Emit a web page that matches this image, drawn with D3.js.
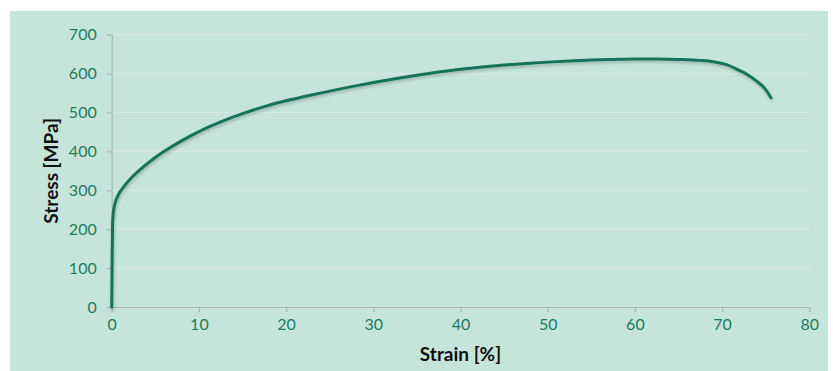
<!DOCTYPE html>
<html>
<head>
<meta charset="utf-8">
<script src="https://cdn.jsdelivr.net/npm/d3@7"></script>
<style>
  body { margin: 0; background: #fff; }
  text { font-family: Lato, "Open Sans", sans-serif; }
</style>
</head>
<body>
<div id="chart"></div>
<script>
// strain in %, stress in MPa
var strain = [0, 0.05, 0.1, 0.2, 0.4, 0.8, 1.3, 2, 3, 4.5, 6.3, 8, 10, 12.5, 15, 17.5, 20, 22.5, 25, 27.5, 30,
  32.5, 35, 37.5, 40, 42.5, 45, 47.5, 50, 52.5, 55, 57.5, 60, 62.5, 65, 67.5, 69, 70.5, 72, 73, 74, 75, 75.6];
var stress = [0, 115, 215, 245, 268, 290, 307, 326, 348, 376, 404, 427, 451, 476, 497, 515, 530, 543, 555, 566.5, 577,
  587, 596, 604, 611, 617, 622, 626, 629.5, 632.5, 635, 636.5, 637.5, 637.5, 636.5, 634, 630.5, 623, 608, 596, 580, 559, 538];
var xTicks = [0, 10, 20, 30, 40, 50, 60, 70, 80];
var yTicks = [0, 100, 200, 300, 400, 500, 600, 700];

var W = 833, H = 371;
var svg = d3.select("#chart").append("svg").attr("width", W).attr("height", H);

var defs = svg.append("defs");
var f = defs.append("filter").attr("id", "shadow").attr("x", "-5%").attr("y", "-5%").attr("width", "110%").attr("height", "120%");
f.append("feDropShadow").attr("dx", 1).attr("dy", 2).attr("stdDeviation", 1.5)
  .attr("flood-color", "#000").attr("flood-opacity", 0.22);

svg.append("rect").attr("x", 10).attr("y", 11).attr("width", 818).attr("height", H - 11).attr("fill", "#c6e5da");

var x = d3.scaleLinear().domain([0, 80]).range([111.7, 809.3]);
var y = d3.scaleLinear().domain([0, 700]).range([307, 34.7]);

// grid
svg.append("g").selectAll("line").data(yTicks.slice(1)).enter().append("line")
  .attr("x1", x(0)).attr("x2", x(80))
  .attr("y1", function (d) { return y(d); }).attr("y2", function (d) { return y(d); })
  .attr("stroke", "#d7e8e0").attr("stroke-width", 1.2);

var tickColor = "#1d7a5f";
var gx = svg.append("g").attr("transform", "translate(0," + y(0) + ")")
  .call(d3.axisBottom(x).tickValues(xTicks).tickSize(5).tickPadding(7));
var gy = svg.append("g").attr("transform", "translate(" + x(0) + ",0)")
  .call(d3.axisLeft(y).tickValues(yTicks).tickSize(5).tickPadding(10));
[gx, gy].forEach(function (g) {
  g.select(".domain").attr("stroke", "#a9b9b2").attr("stroke-width", 1.2);
  g.selectAll(".tick line").attr("stroke", "#a9b9b2").attr("stroke-width", 1.2);
  g.selectAll(".tick text").attr("fill", tickColor).attr("font-size", 16).attr("font-family", "Lato, sans-serif");
});

// curve
var pts = strain.map(function (s, i) { return [s, stress[i]]; });
var line = d3.line()
  .x(function (d) { return x(d[0]); })
  .y(function (d) { return y(d[1]); })
  .curve(d3.curveMonotoneX);
svg.append("path").datum(pts).attr("d", line)
  .attr("fill", "none").attr("stroke", "#16735a").attr("stroke-width", 3)
  .attr("stroke-linecap", "round").attr("filter", "url(#shadow)");

// titles
svg.append("text").attr("x", (x(0) + x(80)) / 2).attr("y", 361).attr("text-anchor", "middle")
  .attr("font-size", 19).attr("font-weight", "bold").attr("fill", "#111").text("Strain [%]");
svg.append("text").attr("transform", "translate(58," + (y(0) + y(700)) / 2 + ") rotate(-90)")
  .attr("text-anchor", "middle").attr("font-size", 19).attr("font-weight", "bold").attr("fill", "#111")
  .text("Stress [MPa]");
</script>
</body>
</html>
